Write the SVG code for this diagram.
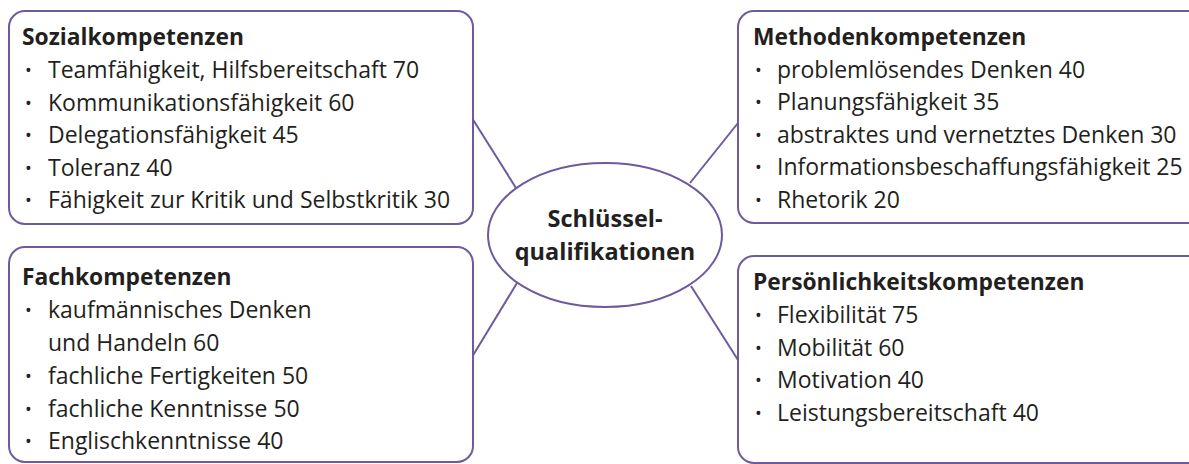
<svg xmlns="http://www.w3.org/2000/svg" width="1189" height="464" viewBox="0 0 1189 464">
<style>
.box{fill:#fff;stroke:#6e5a9e;stroke-width:2}
.con{stroke:#6e5a9e;stroke-width:2;fill:none}
text{font-family:"Open Sans","Noto Sans",sans-serif;fill:#231f20;font-size:23px}
.t{font-weight:bold;font-size:22.8px}
.b{font-size:18px}
.c{font-weight:bold;font-size:23.5px;text-anchor:middle}
</style>
<rect width="1189" height="464" fill="#fff"/>
<g id="connectors">
<line class="con" x1="472" y1="118" x2="516" y2="188"/>
<line class="con" x1="738" y1="123" x2="690" y2="183"/>
<line class="con" x1="517" y1="283" x2="472" y2="357"/>
<line class="con" x1="691" y1="286" x2="738" y2="360"/>
</g>
<g id="sozial">
<rect class="box" x="9" y="11" width="464" height="213" rx="16"/>
<text class="t" x="22" y="45">Sozialkompetenzen</text>
<text class="b" x="25" y="77">•</text><text x="48" y="78">Teamfähigkeit, Hilfsbereitschaft 70</text>
<text class="b" x="25" y="110">•</text><text x="48" y="111">Kommunikationsfähigkeit 60</text>
<text class="b" x="25" y="142">•</text><text x="48" y="143">Delegationsfähigkeit 45</text>
<text class="b" x="25" y="175">•</text><text x="48" y="176">Toleranz 40</text>
<text class="b" x="25" y="207">•</text><text x="48" y="208">Fähigkeit zur Kritik und Selbstkritik 30</text>
</g>
<g id="fach">
<rect class="box" x="9" y="247" width="464" height="215" rx="16"/>
<text class="t" x="22" y="285">Fachkompetenzen</text>
<text class="b" x="25" y="317">•</text><text x="48" y="318">kaufmännisches Denken</text>
<text x="48" y="351">und Handeln 60</text>
<text class="b" x="25" y="383">•</text><text x="48" y="384">fachliche Fertigkeiten 50</text>
<text class="b" x="25" y="416">•</text><text x="48" y="417">fachliche Kenntnisse 50</text>
<text class="b" x="25" y="448">•</text><text x="48" y="449">Englischkenntnisse 40</text>
</g>
<g id="methoden">
<rect class="box" x="738" y="11" width="470" height="212" rx="16"/>
<text class="t" x="753" y="45">Methodenkompetenzen</text>
<text class="b" x="755" y="77">•</text><text x="777" y="78">problemlösendes Denken 40</text>
<text class="b" x="755" y="109">•</text><text x="777" y="110">Planungsfähigkeit 35</text>
<text class="b" x="755" y="142">•</text><text x="777" y="143">abstraktes und vernetztes Denken 30</text>
<text class="b" x="755" y="174">•</text><text x="777" y="175">Informationsbeschaffungsfähigkeit 25</text>
<text class="b" x="755" y="207">•</text><text x="777" y="208">Rhetorik 20</text>
</g>
<g id="persoenlichkeit">
<rect class="box" x="738" y="256" width="470" height="207" rx="16"/>
<text class="t" x="753" y="290">Persönlichkeitskompetenzen</text>
<text class="b" x="755" y="322">•</text><text x="777" y="323">Flexibilität 75</text>
<text class="b" x="755" y="355">•</text><text x="777" y="356">Mobilität 60</text>
<text class="b" x="755" y="387">•</text><text x="777" y="388">Motivation 40</text>
<text class="b" x="755" y="420">•</text><text x="777" y="421">Leistungsbereitschaft 40</text>
</g>
<g id="center">
<ellipse class="box" cx="605" cy="235" rx="117" ry="72"/>
<text class="c" x="605" y="227">Schlüssel-</text>
<text class="c" x="605" y="260">qualifikationen</text>
</g>
</svg>
